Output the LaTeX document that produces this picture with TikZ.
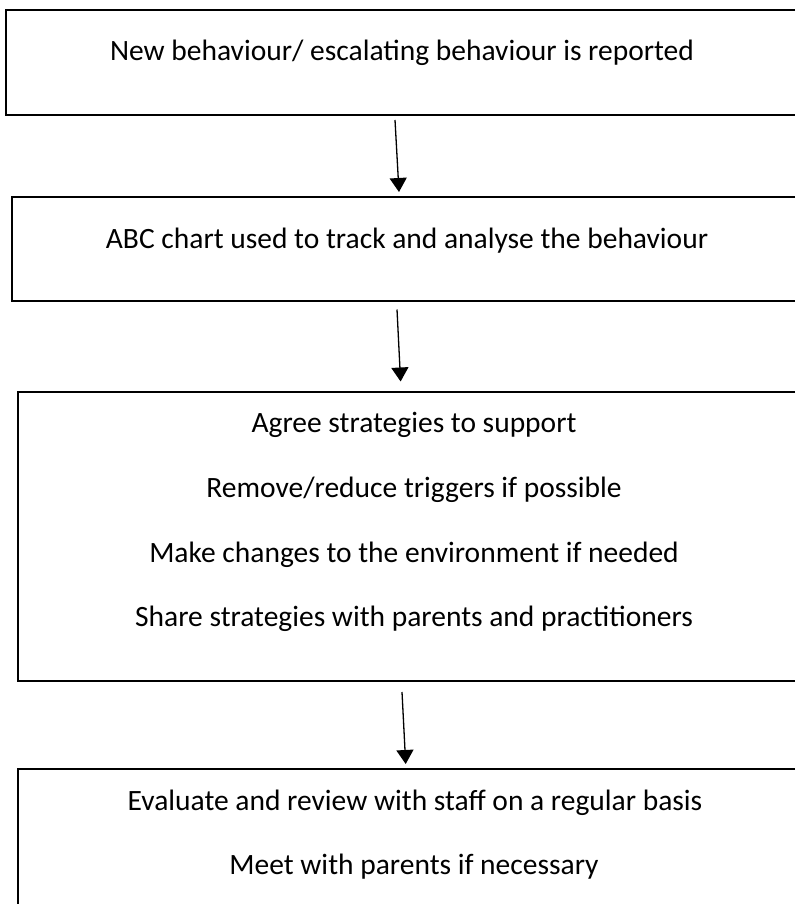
\documentclass[tikz,border=0pt]{standalone}
\usepackage{fontspec}
\setmainfont{Carlito}
\usetikzlibrary{arrows.meta}
\tikzset{
  box/.style={draw=none, inner sep=0pt, outer sep=0pt, rectangle},
  boxline/.style={draw=black, line width=2.7pt, line join=miter},
  txt/.style={anchor=base, inner sep=0pt, font=\fontsize{29.5}{34}\selectfont},
  flow/.style={line width=1.3pt, -{Triangle[width=17pt,length=14pt]}}
}
\begin{document}
\begin{tikzpicture}[x=1pt,y=1pt]
\useasboundingbox (0,0) rectangle (795,-904);
\fill[white] (0,0) rectangle (795,-904);
% boxes (their right edges lie beyond the picture)
\node[box, minimum width=789pt, minimum height=105pt] (b1) at (400.5,-62.5) {};
\node[box, minimum width=783pt, minimum height=104pt] (b2) at (403.5,-249) {};
\node[box, minimum width=777pt, minimum height=289pt] (b3) at (406.5,-536.5) {};
\node[box, minimum width=777pt, minimum height=160pt] (b4) at (406.5,-849) {};
\draw[boxline] (b1.north east) -- (b1.north west) -- (b1.south west) -- (b1.south east);
\draw[boxline] (b2.north east) -- (b2.north west) -- (b2.south west) -- (b2.south east);
\draw[boxline] (b3.north east) -- (b3.north west) -- (b3.south west) -- (b3.south east);
\draw[boxline] (b4.north east) -- (b4.north west) -- (b4.south west);
% texts
\node[txt] (t1) at (402,-60.5) {New behaviour/ escalating behaviour is reported};
\node[txt] (t2) at (407,-248) {ABC chart used to track and analyse the behaviour};
\node[txt] (t3a) at (414,-432) {Agree strategies to support};
\node[txt] (t3b) at (414,-497) {Remove/reduce triggers if possible};
\node[txt] (t3c) at (414,-562) {Make changes to the environment if needed};
\node[txt] (t3d) at (414,-626) {Share strategies with parents and practitioners};
\node[txt] (t4a) at (415,-810) {Evaluate and review with staff on a regular basis};
\node[txt] (t4b) at (414,-874) {Meet with parents if necessary};
% connector ends
\coordinate (a1s) at (395,-120);
\coordinate (a1e) at (399,-192);
\coordinate (a2s) at (397,-309.5);
\coordinate (a2e) at (400.6,-381.5);
\coordinate (a3s) at (402,-692);
\coordinate (a3e) at (405.7,-764);
\draw[flow] (a1s) -- (a1e);
\draw[flow] (a2s) -- (a2e);
\draw[flow] (a3s) -- (a3e);
\end{tikzpicture}
\end{document}
